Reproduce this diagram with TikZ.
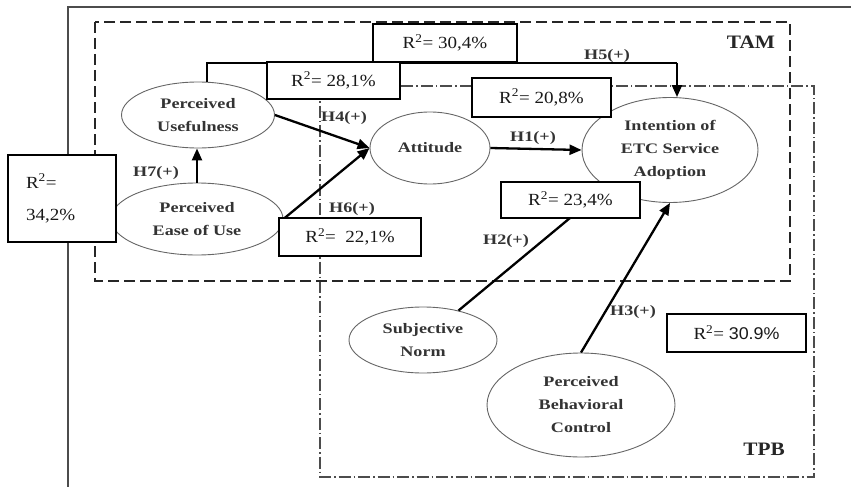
\documentclass[tikz,border=0pt]{standalone}
\usepackage{fontspec}
\setmainfont{Liberation Serif}
\newfontfamily\wideserif[FakeStretch=1.25]{Liberation Serif}
\newfontfamily\rfont[FakeStretch=1.12]{Liberation Serif}
\newfontfamily\rsans[FakeStretch=1.05]{Liberation Sans}
\usetikzlibrary{shapes.geometric,arrows.meta}
\begin{document}
\begin{tikzpicture}[x=1pt,y=-1pt,
  ell/.style={ellipse,draw=black!60,line width=0.9pt,fill=white,inner sep=0pt,align=center,text=black!80,
    font=\wideserif\bfseries\fontsize{14.5}{23}\selectfont},
  rbox/.style={draw=black,line width=1.1pt,fill=white,inner sep=0pt,text=black!90,
    font=\rfont\fontsize{17}{20}\selectfont},
  hl/.style={inner sep=0pt,text=black!80,font=\wideserif\bfseries\fontsize{14.5}{17}\selectfont},
  big/.style={inner sep=0pt,text=black!85,font=\rfont\bfseries\fontsize{19}{22}\selectfont},
  conn/.style={line width=2.3pt,-{Triangle[length=12pt,width=10pt]}},
  tamframe/.style={line width=2.4pt,black!85,dash pattern=on 11pt off 5pt},
  tpbframe/.style={line width=1.1pt,black!70,dash pattern=on 12pt off 3pt on 1.5pt off 3pt},
]
\useasboundingbox (0,0) rectangle (851,487);
% outer frame
\draw[black!70,line width=1.4pt] (68,487) -- (68,7) -- (851,7);
% TPB and TAM frames
\draw[tpbframe] (320,86) rectangle (814,477);
\draw[tamframe] (95,22) rectangle (790,281);

% constructs
\node[ell,minimum width=153,minimum height=66] (pu) at (198,115) {Perceived\\Usefulness};
\node[ell,minimum width=172,minimum height=72] (peu) at (197,219) {Perceived\\Ease of Use};
\node[ell,minimum width=120,minimum height=72] (att) at (430,148) {Attitude};
\node[ell,minimum width=176,minimum height=105] (int) at (670,150) {Intention of\\ETC Service\\Adoption};
\node[ell,minimum width=148,minimum height=66] (sn) at (423,340) {Subjective\\Norm};
\node[ell,minimum width=188,minimum height=104] (pbc) at (581,405) {Perceived\\Behavioral\\Control};

% connectors
\coordinate (h5a) at (207,63);
\coordinate (h5b) at (677,63);
\draw[conn,-] (h5a |- pu.north) -- (h5a) -- (h5b);
\draw[conn] (h5b) -- (h5b |- int.north);
\draw[conn] (pu.east) -- (att.west);
\draw[conn] (peu.east) -- (att.west);
\draw[conn] (peu.north) -- (peu.north |- pu.south);
\draw[conn] (att.east) -- (int.west);
\draw[line width=2.3pt] (sn) -- (570,218) coordinate (h2end);
\draw[conn] (pbc.north) -- (int.south);

% R2 boxes
\node[rbox,minimum width=144,minimum height=38] (r304) at (445,43) {R\textsuperscript{2}= 30,4\%};
\node[rbox,minimum width=133,minimum height=37] (r281) at (333.5,80.5) {R\textsuperscript{2}= 28,1\%};
\node[rbox,minimum width=139,minimum height=39] (r208) at (541.5,97.5) {R\textsuperscript{2}= 20,8\%};
\node[rbox,minimum width=139,minimum height=36] (r234) at (570.5,200) {R\textsuperscript{2}= 23,4\%};
\node[rbox,minimum width=142,minimum height=38] (r221) at (350,237) {R\textsuperscript{2}=\ \ 22,1\%};
\node[rbox,minimum width=108,minimum height=87,align=left,text width=72] (r342) at (62,198.5) {R\textsuperscript{2}=\\[12pt]34,2\%};
\node[rbox,minimum width=139,minimum height=38] (r309) at (736.5,333) {R\textsuperscript{2}= {\rsans 30.9\%}};

% hypothesis labels
\node[hl] (l7) at (156,173) {H7(+)};
\node[hl] (l4) at (344,118) {H4(+)};
\node[hl] (l6) at (352,209) {H6(+)};
\node[hl] (l1) at (533,138) {H1(+)};
\node[hl] (l5) at (607,56) {H5(+)};
\node[hl] (l2) at (506,241) {H2(+)};
\node[hl] (l3) at (633,312) {H3(+)};
\node[big] (tam) at (751,42) {TAM};
\node[big] (tpb) at (764,449) {TPB};
\end{tikzpicture}
\end{document}
